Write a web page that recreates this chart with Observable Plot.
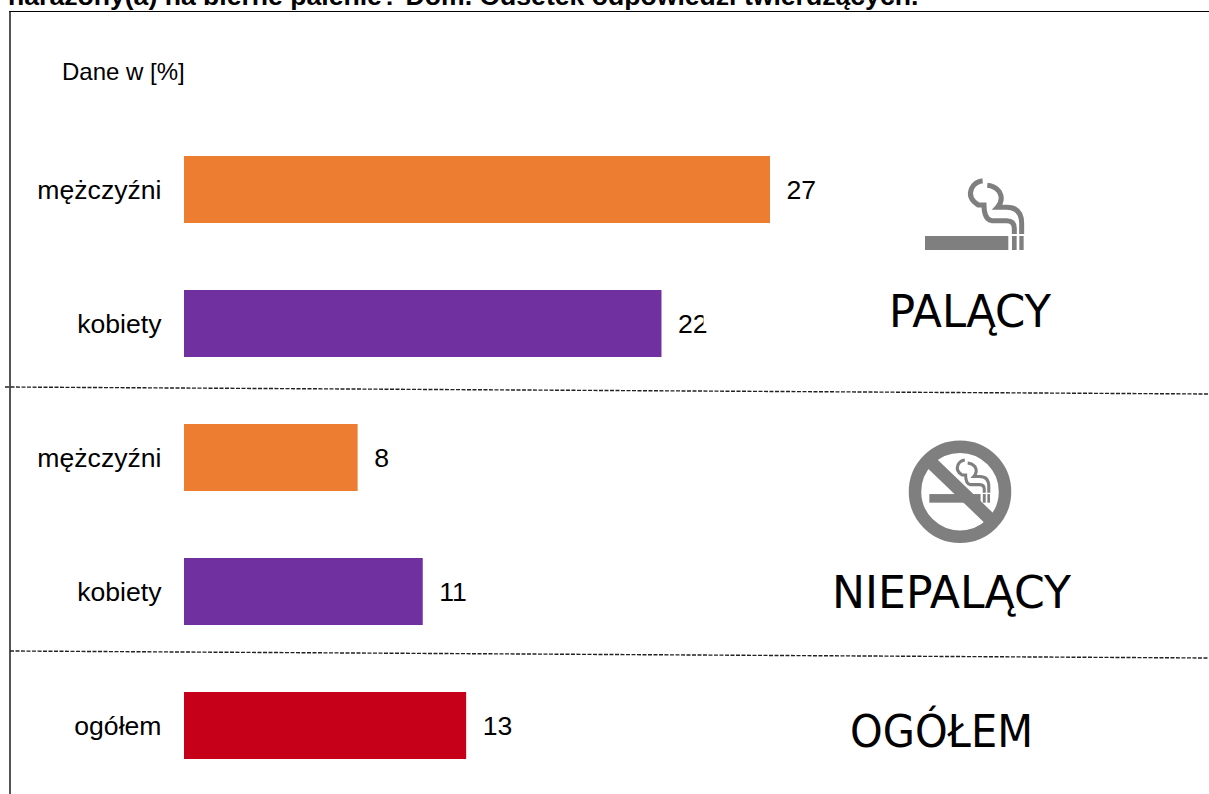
<!DOCTYPE html>
<html lang="pl"><head><meta charset="utf-8">
<script src="https://cdn.jsdelivr.net/npm/d3@7"></script>
<script src="https://cdn.jsdelivr.net/npm/@observablehq/plot@0.6"></script>
<style>
html,body{margin:0;padding:0;background:#fff;overflow:hidden;width:1209px;height:794px}
#wrap{position:relative;width:1209px;height:794px;overflow:hidden;font-family:"Liberation Sans",Arial,sans-serif}
#wrap>svg{position:absolute;left:0;top:0;display:block}
</style></head><body><div id="wrap"></div>
<script>
const rows = ["0","1","2","3","4"];
const respondents = ["mężczyźni","kobiety","mężczyźni","kobiety","ogółem"];
const values = [27,22,8,11,13];
const titleText = "narażony(a) na bierne palenie? Dom. Odsetek odpowiedzi twierdzących.";
const unitText = "Dane w [%]";
const sectionLabels = ["PALĄCY","NIEPALĄCY","OGÓŁEM"];

const data = rows.map((r,i)=>({row:r,who:respondents[i],value:values[i]}));
const chart = Plot.plot({
  width:1209,height:794,margin:0,
  style:{background:"transparent",fontFamily:"'Liberation Sans',Arial,sans-serif"},
  x:{domain:[0,27],range:[184,770],axis:null},
  y:{domain:rows,range:[122.5,792.5],paddingInner:0.5,paddingOuter:0.25,round:false,axis:null},
  color:{domain:["mężczyźni","kobiety","ogółem"],range:["#ED7D31","#7030A0","#C50018"]},
  marks:[
    Plot.barX(data,{x:"value",y:"row",fill:"who"}),
    Plot.text(data,{x:()=>0,y:"row",text:"who",dx:-23,textAnchor:"end",fontSize:26.6,fill:"#000"}),
    Plot.text(data,{x:"value",y:"row",text:d=>String(d.value),dx:16,textAnchor:"start",fontSize:26.6,fill:"#000"})
  ]
});
document.getElementById("wrap").appendChild(chart);

const NS="http://www.w3.org/2000/svg";
const smoke = `<path d="M425 222V190Q425 142 380 142H352Q372 120 358 95Q345 78 322 76" fill="none" stroke="#7f7f7f" stroke-width="15"/>
<path d="M403 222V205Q403 182 380 182H335Q312 178 312 135H295Q262 115 275 85Q285 65 308 62" fill="none" stroke="#7f7f7f" stroke-width="15"/>
<rect x="135" y="228" width="250" height="42" fill="#7f7f7f"/>
<rect x="396" y="228" width="14" height="42" fill="#7f7f7f"/>
<rect x="418" y="228" width="13" height="42" fill="#7f7f7f"/>`;
const ov = document.createElementNS(NS,"svg");
ov.setAttribute("width",1209);ov.setAttribute("height",794);ov.setAttribute("viewBox","0 0 1209 794");
ov.innerHTML = `
<rect x="703.5" y="314" width="3" height="14" fill="#fff"/>
<line x1="10" y1="11" x2="10" y2="794" stroke="#555" stroke-width="2"/>
<line x1="9" y1="11.5" x2="1209" y2="11.5" stroke="#000" stroke-width="1.2"/>
<line x1="5" y1="387" x2="1209" y2="394" stroke="#222" stroke-width="1.4" stroke-dasharray="4 1.5"/>
<line x1="10" y1="651" x2="1209" y2="658" stroke="#222" stroke-width="1.4" stroke-dasharray="4 1.5"/>
<g transform="translate(880 160) scale(0.3333)">${smoke}</g>
<circle cx="960" cy="491.7" r="45" fill="none" stroke="#7f7f7f" stroke-width="12.5"/>
<g transform="translate(890 430) scale(0.3333) translate(35 52) scale(0.615)">${smoke}</g>
<line x1="929" y1="460.5" x2="992" y2="521" stroke="#7f7f7f" stroke-width="13"/>
<text x="8" y="5" font-size="26.6" font-weight="bold" fill="#000">${titleText}</text>
<text x="62" y="80" font-size="24" fill="#000">${unitText}</text>
<g font-family="'DejaVu Sans',Verdana,sans-serif" font-size="44" fill="#000">
<text x="889" y="327" textLength="162" lengthAdjust="spacingAndGlyphs">${sectionLabels[0]}</text>
<text x="832" y="608" textLength="239" lengthAdjust="spacingAndGlyphs">${sectionLabels[1]}</text>
<text x="850" y="747" textLength="183" lengthAdjust="spacingAndGlyphs">${sectionLabels[2]}</text>
</g>`;
document.getElementById("wrap").appendChild(ov);
</script></body></html>
